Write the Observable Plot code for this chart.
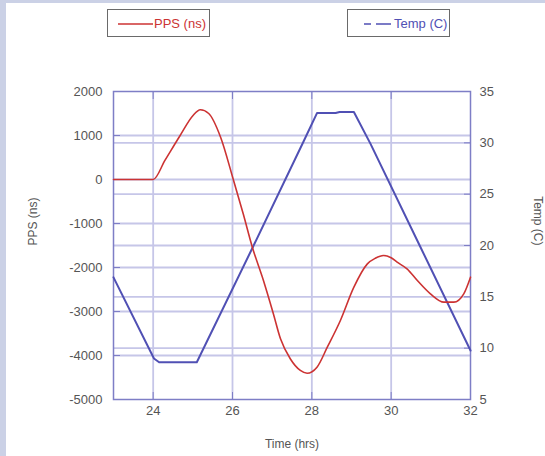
<!DOCTYPE html>
<html>
<head>
<meta charset="utf-8">
<script src="https://cdn.jsdelivr.net/npm/d3@7"></script>
<script src="https://cdn.jsdelivr.net/npm/@observablehq/plot@0.6"></script>
<style>
  html, body { margin: 0; padding: 0; background: #fff; }
  #wrap { position: relative; width: 545px; height: 456px; overflow: hidden; background: #fff; font-family: "Liberation Sans", Arial, sans-serif; }
  #wrap svg.plot { position: absolute; left: 0; top: 0; }
  .strip { position: absolute; background: #cbd1e6; }
  .legend { position: absolute; top: 9px; width: 101px; height: 26px; border: 1.5px solid #6a6a6a; box-sizing: content-box; font-size: 13px; }
  .legend svg { position: absolute; left: 0; top: 0; }
  .legend span { position: absolute; top: 6px; white-space: nowrap; }
</style>
</head>
<body>
<div id="wrap">
  <div class="strip" style="left:0;top:0;width:6px;height:456px"></div>
  <div class="strip" style="left:0;top:0;width:545px;height:3px"></div>
  <div class="legend" style="left:107px">
    <svg width="101" height="26"><line x1="10" x2="45" y1="14" y2="14" stroke="#cc3333" stroke-width="1.5"/></svg>
    <span style="left:46px;color:#cc3333">PPS (ns)</span>
  </div>
  <div class="legend" style="left:347px">
    <svg width="101" height="26"><line x1="16" x2="43" y1="14" y2="14" stroke="#5050b4" stroke-width="1.5" stroke-dasharray="7,5,15"/></svg>
    <span style="left:46px;color:#5050b4">Temp (C)</span>
  </div>
</div>
<script>
// ---- data ----
const ppsTime = [23, 23.5, 24, 24.3, 24.68, 25.0, 25.19, 25.4, 25.7, 26.02, 26.27, 26.5, 26.78, 27.03, 27.21, 27.46, 27.71, 27.88, 28.13, 28.39, 28.72, 29.06, 29.4, 29.6, 29.81, 30.0, 30.15, 30.4, 30.66, 30.99, 31.33, 31.58, 31.83, 32];
const ppsValue = [0, 0, 0, 440, 1000, 1450, 1584, 1500, 961, 0, -780, -1538, -2295, -3050, -3620, -4080, -4340, -4402, -4265, -3811, -3205, -2447, -1917, -1790, -1727, -1780, -1879, -2030, -2295, -2598, -2788, -2788, -2598, -2220];

const tempTime = [23, 24.02, 24.15, 25.1, 26.52, 27.8, 28.13, 28.6, 28.7, 29.06, 29.48, 30.74, 32];
const tempValue = [16.9, 9.0, 8.63, 8.63, 19.9, 30.2, 32.9, 32.9, 33.0, 33.0, 29.9, 19.83, 9.77];

const xTicks = [24, 26, 28, 30, 32];
const ppsTicks = [2000, 1000, 0, -1000, -2000, -3000, -4000, -5000];
const tempTicks = [35, 30, 25, 20, 15, 10, 5];

// ---- helpers ----
const ppsDomain = [-5000, 2000];
const tempDomain = [5, 35];
const toPPS = d3.scaleLinear(tempDomain, ppsDomain);
const ppsData = ppsTime.map((t, i) => ({t, v: ppsValue[i]}));
const tempData = tempTime.map((t, i) => ({t, v: tempValue[i]}));

const gridColor = "#c6c6e8";
const frameColor = "#7e7ec6";
const textColor = "#555";

const chart = Plot.plot({
  width: 545,
  height: 456,
  marginLeft: 113,
  marginRight: 75,
  marginTop: 91,
  marginBottom: 57,
  x: {domain: [23, 32]},
  y: {domain: ppsDomain},
  style: {fontFamily: "'Liberation Sans', Arial, sans-serif", fontSize: "13px", background: "transparent", color: textColor},
  marks: [
    Plot.gridY(ppsTicks.slice(1, -1), {stroke: gridColor, strokeOpacity: 1, strokeWidth: 1.8}),
    Plot.gridY(tempTicks.slice(1, -1).map(toPPS), {stroke: gridColor, strokeOpacity: 1, strokeWidth: 1.8}),
    Plot.gridX(xTicks.slice(0, -1), {stroke: gridColor, strokeOpacity: 1, strokeWidth: 1.8}),
    Plot.axisY(ppsTicks, {anchor: "left", tickSize: -7, tickPadding: 18, label: null, stroke: frameColor, fill: textColor, tickFormat: d => String(d)}),
    Plot.axisY(tempTicks.map(toPPS), {anchor: "right", tickSize: -7, tickPadding: 16, label: null, stroke: frameColor, fill: textColor, tickFormat: d => String(Math.round(toPPS.invert(d)))}),
    Plot.axisX(xTicks, {anchor: "bottom", tickSize: -7, tickPadding: 13, label: null, stroke: frameColor, fill: textColor}),
    Plot.axisX(xTicks, {anchor: "top", tickSize: -7, label: null, stroke: frameColor, tickFormat: () => ""}),
    Plot.frame({stroke: frameColor, strokeWidth: 1.5}),
    Plot.line(tempData, {x: "t", y: d => toPPS(d.v), stroke: "#5050b4", strokeWidth: 2}),
    Plot.line(ppsData, {x: "t", y: "v", stroke: "#cc3333", strokeWidth: 1.6, curve: "monotone-x"}),
    Plot.text(["Time (hrs)"], {frameAnchor: "bottom", dy: 48, fontSize: 12, fill: textColor}),
    Plot.text(["PPS (ns)"], {frameAnchor: "left", dx: -80, rotate: -90, fontSize: 12, fill: textColor}),
    Plot.text(["Temp (C)"], {frameAnchor: "right", dx: 67, rotate: 90, fontSize: 12, fill: textColor})
  ]
});
chart.classList.add("plot");
document.getElementById("wrap").appendChild(chart);
</script>
</body>
</html>
